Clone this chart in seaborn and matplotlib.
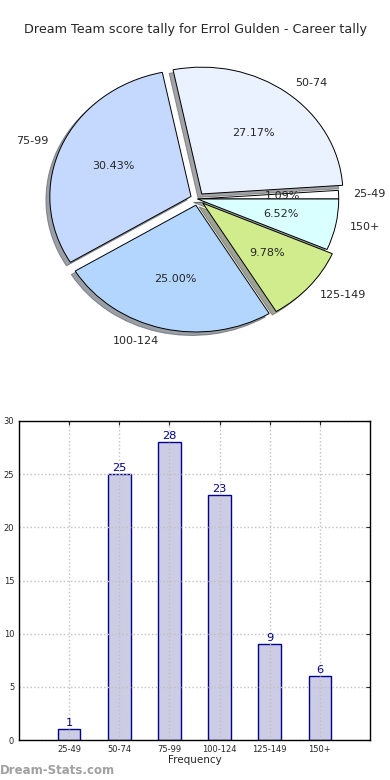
import matplotlib
matplotlib.use("Agg")
import matplotlib.pyplot as plt
import seaborn as sns

# Score ranges and how many games fell in each
ranges = ["25-49", "50-74", "75-99", "100-124", "125-149", "150+"]
counts = [1, 25, 28, 23, 9, 6]
explode = [0, 0.05, 0.05, 0.05, 0.05, 0]
pie_colors = ["#FFFFFF", "#EAF1FF", "#C5D9FF", "#B3D6FF", "#D0EC8C", "#D9FFFF"]

sns.set_style("white")

fig = plt.figure(figsize=(3.9, 7.8), dpi=100)
fig.text(0.5, 1 - 30 / 780, "Dream Team score tally for Errol Gulden - Career tally",
         ha="center", va="center", fontsize=9.2)

# Pie chart (top)
ax1 = fig.add_axes([21 / 390, (780 - 357.5) / 780, 353 / 390, 317 / 780])
wedges, texts, autotexts = ax1.pie(
    counts, labels=ranges, explode=explode, colors=pie_colors,
    autopct="%1.2f%%", shadow=True, startangle=0,
    wedgeprops=dict(edgecolor="black", linewidth=0.7),
    textprops=dict(fontsize=8),
)
ax1.set_aspect("auto")
ax1.set_xlim(-1.25, 1.25)
ax1.set_ylim(-1.25, 1.25)

# Bar chart (bottom)
ax2 = fig.add_axes([19 / 390, 40 / 780, 351 / 390, 319 / 780])
sns.barplot(x=ranges, y=counts, color="#CCCCE5", saturation=1, width=0.45,
            edgecolor="#00008B", linewidth=1, ax=ax2)
ax2.bar_label(ax2.containers[0], color="#00008B", fontsize=8.2, padding=1)
ax2.set_xlim(-1, 6)
ax2.set_ylim(0, 30)
ax2.set_yticks(range(0, 31, 5))
ax2.set_axisbelow("line")
ax2.grid(True, linestyle=":", color="#c0c0c0", linewidth=1)
ax2.tick_params(direction="in", top=True, right=True, labelsize=6, length=3)
for s in ax2.spines.values():
    s.set_color("black")
    s.set_linewidth(1)
    s.set_zorder(3)
ax2.set_xlabel("Frequency", fontsize=7.5, labelpad=1)
ax2.set_ylabel("Stat Intervals", fontsize=7.5)
ax2.yaxis.set_label_coords(-0.045, 0.5)

fig.text(0.0, 1 - 770 / 780, "Dream-Stats.com", color="#a0a0a0",
         fontsize=8.5, fontweight="bold", ha="left", va="center")

plt.savefig("out.png", dpi=100)
